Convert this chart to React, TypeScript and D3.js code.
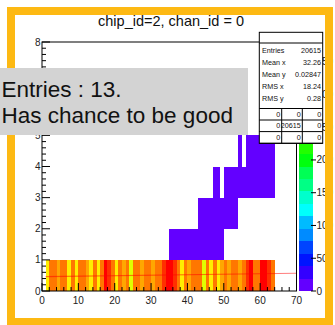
import React from 'react';
import * as d3 from 'd3';

// ---------- data ----------
const title = 'chip_id=2, chan_id = 0';
const xTickValues = [0, 10, 20, 30, 40, 50, 60, 70];
const yTickValues = [0, 1, 2, 3, 4, 5, 6, 7, 8];
const zTickValues = [0, 50, 100, 150, 200, 250, 300, 350];

// bottom row (y bin 0..1), x bins 1..63
const bottomRowBins = [
  1, 2, 3, 4, 5, 6, 7, 8, 9, 10, 11, 12, 13, 14, 15, 16, 17, 18, 19, 20, 21,
  22, 23, 24, 25, 26, 27, 28, 29, 30, 31, 32, 33, 34, 35, 36, 37, 38, 39, 40, 41, 42,
  43, 44, 45, 46, 47, 48, 49, 50, 51, 52, 53, 54, 55, 56, 57, 58, 59, 60, 61, 62, 63,
];
const bottomRowCounts = [
  295, 332, 330, 313, 333, 331, 296, 334, 294, 330, 335, 312, 297, 329, 293, 336, 370, 350, 331, 298, 332,
  315, 334, 276, 330, 333, 314, 331, 336, 311, 332, 328, 352, 380, 366, 348, 333, 296, 330, 316, 334, 331,
  327, 278, 333, 292, 330, 299, 312, 335, 318, 332, 329, 314, 331, 349, 369, 333, 336, 371, 364, 353, 330,
];
// sparse upper cells (1 entry each)
const row1Bins = [35, 36, 37, 38, 39, 40, 41, 42, 43, 44, 45, 46, 47, 48, 49];
const row2Bins = [43, 44, 45, 46, 47, 48, 49, 50, 51, 52, 53];
const row3Bins = [47, 48, 50, 51, 52, 53, 54, 55, 56, 57, 58, 59, 60, 61, 62, 63];
const row4Bins = [54, 56, 57, 58, 59, 60, 61, 62, 63];
const sparseCount = 1;

const fitX = [1, 70];
const fitY = [0.46, 0.57];

const statsLabels = ['Entries', 'Mean x', 'Mean y', 'RMS x', 'RMS y'];
const statsValues = ['20615', '32.26', '0.02847', '18.24', '0.28'];
const gridRow1 = ['0', '0', '0'];
const gridRow2 = ['0', '20615', '0'];
const gridRow3 = ['0', '0', '0'];

const noteLines = ['Entries : 13.', 'Has chance to be good'];

// ---------- layout ----------
const W = 335;
const H = 325;
const FONT = '"Liberation Sans", Arial, Helvetica, sans-serif';
const frame = { left: 42, right: 296.5, top: 42, bottom: 291 };
const zMax = 380;
const nLevels = 20;

const x = d3.scaleLinear().domain([0, 70]).range([frame.left, frame.right]);
const y = d3.scaleLinear().domain([0, 8]).range([frame.bottom, frame.top]);
const z = d3.scaleLinear().domain([0, zMax]).range([frame.bottom, frame.top]);

// ROOT "pretty" palette (violet -> red), 50 colours sampled for 20 contours
function levelColor(level: number): string {
  const idx = Math.floor(((level + 0.99) * 50) / nLevels);
  const hue = 280 - (idx + 1) * 5.6;
  return d3.hsl(hue, 1, 0.5).formatHex();
}
function valueColor(v: number): string {
  const level = Math.min(nLevels - 1, Math.floor((v / zMax) * nLevels));
  return levelColor(level);
}

type Cell = { bx: number; by: number; v: number };
const cells: Cell[] = [
  ...bottomRowBins.map((b, i) => ({ bx: b, by: 0, v: bottomRowCounts[i] })),
  ...row1Bins.map((b) => ({ bx: b, by: 1, v: sparseCount })),
  ...row2Bins.map((b) => ({ bx: b, by: 2, v: sparseCount })),
  ...row3Bins.map((b) => ({ bx: b, by: 3, v: sparseCount })),
  ...row4Bins.map((b) => ({ bx: b, by: 4, v: sparseCount })),
];

const xMinor = d3.range(0, 70.001, 2).filter((v) => v % 10 !== 0);
const yMinor = d3.range(0, 8.001, 0.2).filter((v) => Math.abs(v - Math.round(v)) > 1e-6);

const statsBox = { x0: 259.3, x1: 322.7, y0: 32.3, titleLine: 43, sep: 108.5, y1: 143.3 };
const gridCols = [259.3, 281.7, 302.3, 322.7];
const gridLines = [108.5, 120, 131.6, 143.3];

export default function App() {
  const palLeft = 299;
  const palRight = 313;
  const statRow = d3.scalePoint<string>().domain(statsLabels).range([50, 98]);
  const gridRows = [gridRow1, gridRow2, gridRow3];
  const fitLineGen = d3
    .line<number>()
    .x((d) => x(d))
    .y((_, i) => y(fitY[i]));

  return (
    <svg
      width={W}
      height={H}
      style={{ position: 'absolute', left: 0, top: 0, background: '#fff' }}
      fontFamily={FONT}
    >
      <rect x={0} y={0} width={W} height={H} fill="#fff" />
      {/* title */}
      <text x={171} y={26} textAnchor="middle" fontSize={14.5} fill="#111">
        {title}
      </text>

      {/* heat map cells */}
      <g>
        {cells.map((c, i) => (
          <rect
            key={i}
            x={x(c.bx)}
            y={y(c.by + 1)}
            width={x(c.bx + 1) - x(c.bx)}
            height={y(c.by) - y(c.by + 1)}
            fill={valueColor(c.v)}
            shapeRendering="crispEdges"
          />
        ))}
      </g>

      {/* fit line */}
      <path d={fitLineGen(fitX) || ''} stroke="#ff0000" strokeOpacity={0.5} strokeWidth={1.2} fill="none" />

      {/* frame */}
      <rect
        x={frame.left}
        y={frame.top}
        width={frame.right - frame.left}
        height={frame.bottom - frame.top}
        fill="none"
        stroke="#000"
        strokeWidth={1}
      />

      {/* x axis ticks */}
      <g stroke="#000" strokeWidth={1}>
        {xTickValues.map((v) => (
          <line key={'xt' + v} x1={x(v)} x2={x(v)} y1={frame.bottom} y2={frame.bottom - 8} />
        ))}
        {xMinor.map((v) => (
          <line key={'xm' + v} x1={x(v)} x2={x(v)} y1={frame.bottom} y2={frame.bottom - 4} />
        ))}
        {yTickValues.map((v) => (
          <line key={'yt' + v} x1={frame.left} x2={frame.left + 8} y1={y(v)} y2={y(v)} />
        ))}
        {yMinor.map((v) => (
          <line key={'ym' + v.toFixed(1)} x1={frame.left} x2={frame.left + 4} y1={y(v)} y2={y(v)} />
        ))}
      </g>
      <g fontSize={10} fill="#222">
        {xTickValues.map((v) => (
          <text key={'xl' + v} x={x(v)} y={303.5} textAnchor="middle">
            {v}
          </text>
        ))}
        {yTickValues.map((v) => (
          <text key={'yl' + v} x={40.5} y={y(v)} textAnchor="end" dominantBaseline="central">
            {v}
          </text>
        ))}
      </g>

      {/* palette */}
      <g>
        {d3.range(nLevels).map((k) => (
          <rect
            key={'p' + k}
            x={palLeft}
            y={z(((k + 1) * zMax) / nLevels)}
            width={palRight - palLeft}
            height={z((k * zMax) / nLevels) - z(((k + 1) * zMax) / nLevels)}
            fill={levelColor(k)}
            shapeRendering="crispEdges"
          />
        ))}
        <g stroke="#000" strokeWidth={1}>
          {zTickValues.map((v) => (
            <line key={'zt' + v} x1={palRight - 2} x2={palRight + 3} y1={z(v)} y2={z(v)} />
          ))}
        </g>
        <g fontSize={10} fill="#222">
          {zTickValues.map((v) => (
            <text key={'zl' + v} x={316.5} y={z(v)} dominantBaseline="central">
              {v}
            </text>
          ))}
        </g>
      </g>

      {/* stats box */}
      <g>
        <rect
          x={statsBox.x0}
          y={statsBox.y0}
          width={statsBox.x1 - statsBox.x0}
          height={statsBox.y1 - statsBox.y0}
          fill="#fff"
          stroke="#000"
          strokeWidth={1}
        />
        <line x1={statsBox.x0} x2={statsBox.x1} y1={statsBox.titleLine} y2={statsBox.titleLine} stroke="#000" />
        <g fontSize={7.2} fill="#111">
          {statsLabels.map((l, i) => (
            <g key={l}>
              <text x={262} y={statRow(l)} dominantBaseline="central">
                {l}
              </text>
              <text x={321} y={statRow(l)} textAnchor="end" dominantBaseline="central">
                {statsValues[i]}
              </text>
            </g>
          ))}
        </g>
        <g stroke="#000" strokeWidth={1}>
          {gridLines.map((gy) => (
            <line key={'gl' + gy} x1={statsBox.x0} x2={statsBox.x1} y1={gy} y2={gy} />
          ))}
          {gridCols.slice(1, 3).map((gx) => (
            <line key={'gc' + gx} x1={gx} x2={gx} y1={gridLines[0]} y2={gridLines[3]} />
          ))}
        </g>
        <g fontSize={7.2} fill="#111">
          {gridRows.map((row, r) =>
            row.map((val, c) => (
              <text
                key={'gv' + r + c}
                x={gridCols[c + 1] - 1.5}
                y={(gridLines[r] + gridLines[r + 1]) / 2}
                textAnchor="end"
                dominantBaseline="central"
              >
                {val}
              </text>
            ))
          )}
        </g>
      </g>

      {/* orange border */}
      <rect x={11} y={11} width={318} height={311} fill="none" stroke="#fdb913" strokeWidth={8} />

      {/* grey note box */}
      <rect x={0} y={68} width={248} height={67} fill="#d3d3d3" />
      <g fontSize={22.5} fill="#111">
        <text x={1.5} y={96.5}>{noteLines[0]}</text>
        <text x={1.5} y={122.5}>{noteLines[1]}</text>
      </g>
    </svg>
  );
}
